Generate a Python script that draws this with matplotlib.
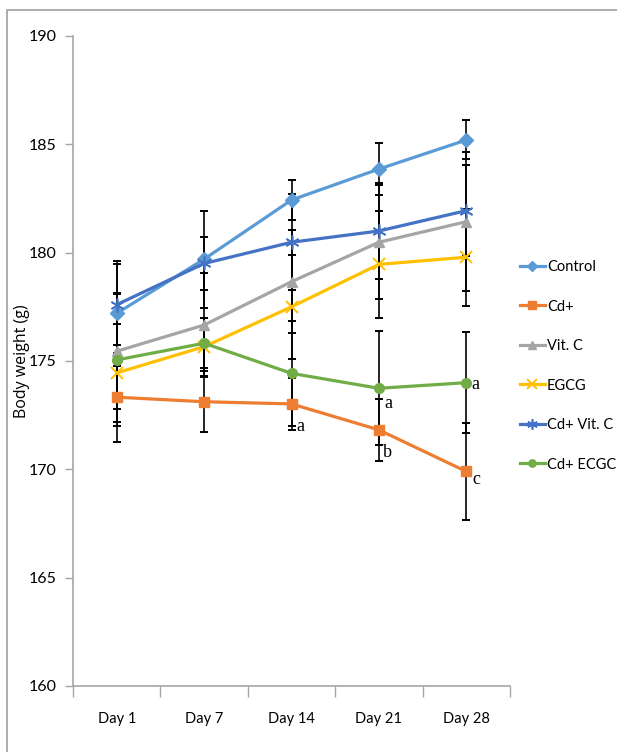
import matplotlib
matplotlib.use("Agg")
import matplotlib.pyplot as plt
from matplotlib.patches import Rectangle
from matplotlib.ticker import FixedLocator, NullFormatter

# ---- data ----
days = ['Day 1', 'Day 7', 'Day 14', 'Day 21', 'Day 28']
series_names = ['Control', 'Cd+', 'Vit. C', 'EGCG', 'Cd+ Vit. C', 'Cd+ ECGC']
control = [177.2, 179.7, 182.43, 183.86, 185.2]
cd = [173.33, 173.12, 173.02, 171.82, 169.9]
vitc = [175.45, 176.66, 178.66, 180.48, 181.43]
egcg = [174.45, 175.66, 177.5, 179.46, 179.79]
cd_vitc = [177.6, 179.5, 180.48, 181.0, 181.94]
cd_egcg = [175.05, 175.82, 174.43, 173.74, 174.0]

control_err = [2.43, 2.24, 0.92, 1.22, 0.9]
cd_err = [2.05, 1.41, 1.2, 1.43, 2.23]
vitc_err = [2.68, 2.41, 2.39, 2.62, 3.2]
egcg_err = [2.28, 1.34, 2.4, 2.48, 2.24]
cd_vitc_err = [1.86, 1.24, 2.21, 2.2, 2.11]
cd_egcg_err = [3.03, 1.15, 2.41, 2.64, 2.34]

# significance letters: (day index, series index, label)
letters = [(2, 1, 'a'), (3, 5, 'a'), (3, 1, 'b'), (4, 5, 'a'), (4, 1, 'c')]
letter_offsets = [(9, -23), (9, -15), (9, -23), (9, -2), (10, -8)]

yticks = [160, 165, 170, 175, 180, 185, 190]

# ---- style ----
values = [control, cd, vitc, egcg, cd_vitc, cd_egcg]
errors = [control_err, cd_err, vitc_err, egcg_err, cd_vitc_err, cd_egcg_err]
colors = ['#5B9BD5', '#ED7D31', '#A5A5A5', '#FFC000', '#4472C4', '#70AD47']
markers = ['D', 's', '^', 'x', '*', 'o']
msizes = [7, 7.5, 7.5, 9, 10, 7]

narrow = ['Lato', 'DejaVu Sans']

W, H = 617, 752
fig = plt.figure(figsize=(W / 100, H / 100), dpi=100)
ax = fig.add_axes([73 / W, (H - 686) / H, 437 / W, 650 / H])

x = list(range(len(days)))
for vals, errs in zip(values, errors):
    ax.errorbar(x, vals, yerr=errs, fmt='none', ecolor='black', elinewidth=1.2,
                capsize=2.6, capthick=1.4, zorder=2)
for name, vals, c, m, ms in zip(series_names, values, colors, markers, msizes):
    kw = {}
    if m == '*':
        m = (6, 2, 0)
        kw = dict(markeredgewidth=1.2)
    elif m == 'x':
        kw = dict(markeredgewidth=1.4)
    ax.plot(x, vals, color=c, lw=2.3, marker=m, markersize=ms,
            markerfacecolor=c, markeredgecolor=c, label=name, zorder=3, **kw)

for (di, si, lab), (dx, dy) in zip(letters, letter_offsets):
    ax.annotate(lab, xy=(di, values[si][di]), xytext=(dx, dy),
                textcoords='offset pixels', ha='center', va='center',
                fontsize=13, family=['Liberation Serif', 'DejaVu Serif'],
                color='black', zorder=5)

ax.set_xlim(-0.5, len(days) - 0.5)
ax.set_ylim(160, 190)
ax.set_yticks(yticks)
ax.set_yticklabels([str(t) for t in yticks], family=narrow, fontsize=11.5)

ax.xaxis.set_major_locator(FixedLocator([i - 0.5 for i in range(len(days) + 1)]))
ax.xaxis.set_major_formatter(NullFormatter())
ax.set_xticks(x, minor=True)
ax.set_xticklabels(days, minor=True, family=narrow, fontsize=10.5)
ax.tick_params(axis='x', which='major', length=8, width=1, color='#A6A6A6', direction='out')
ax.tick_params(axis='x', which='minor', length=0, pad=19)
ax.tick_params(axis='y', length=6, width=1, color='#A6A6A6', pad=6)

for s in ['top', 'right']:
    ax.spines[s].set_visible(False)
for s in ['left', 'bottom']:
    ax.spines[s].set_color('#A6A6A6')
    ax.spines[s].set_linewidth(1.2)

ax.set_ylabel('Body weight (g)', family=['Open Sans', 'DejaVu Sans'], fontsize=11.5)
ax.yaxis.set_label_coords((30 - 73) / 437, 0.5)

leg = ax.legend(loc='upper left', bbox_to_anchor=(520 / W, 1 - 260 / H),
                bbox_transform=fig.transFigure, frameon=False,
                prop={'family': narrow, 'size': 10.5}, handlelength=1.7,
                handletextpad=0.15, labelspacing=1.75, borderaxespad=0, borderpad=0,
                markerscale=0.75)

fig.patches.append(Rectangle((7 / W, -0.01), 1.2, (H - 10) / H + 0.01,
                             transform=fig.transFigure, fill=False,
                             edgecolor='#A0A0A0', lw=1.2))

fig.savefig('out.png', dpi=100)
